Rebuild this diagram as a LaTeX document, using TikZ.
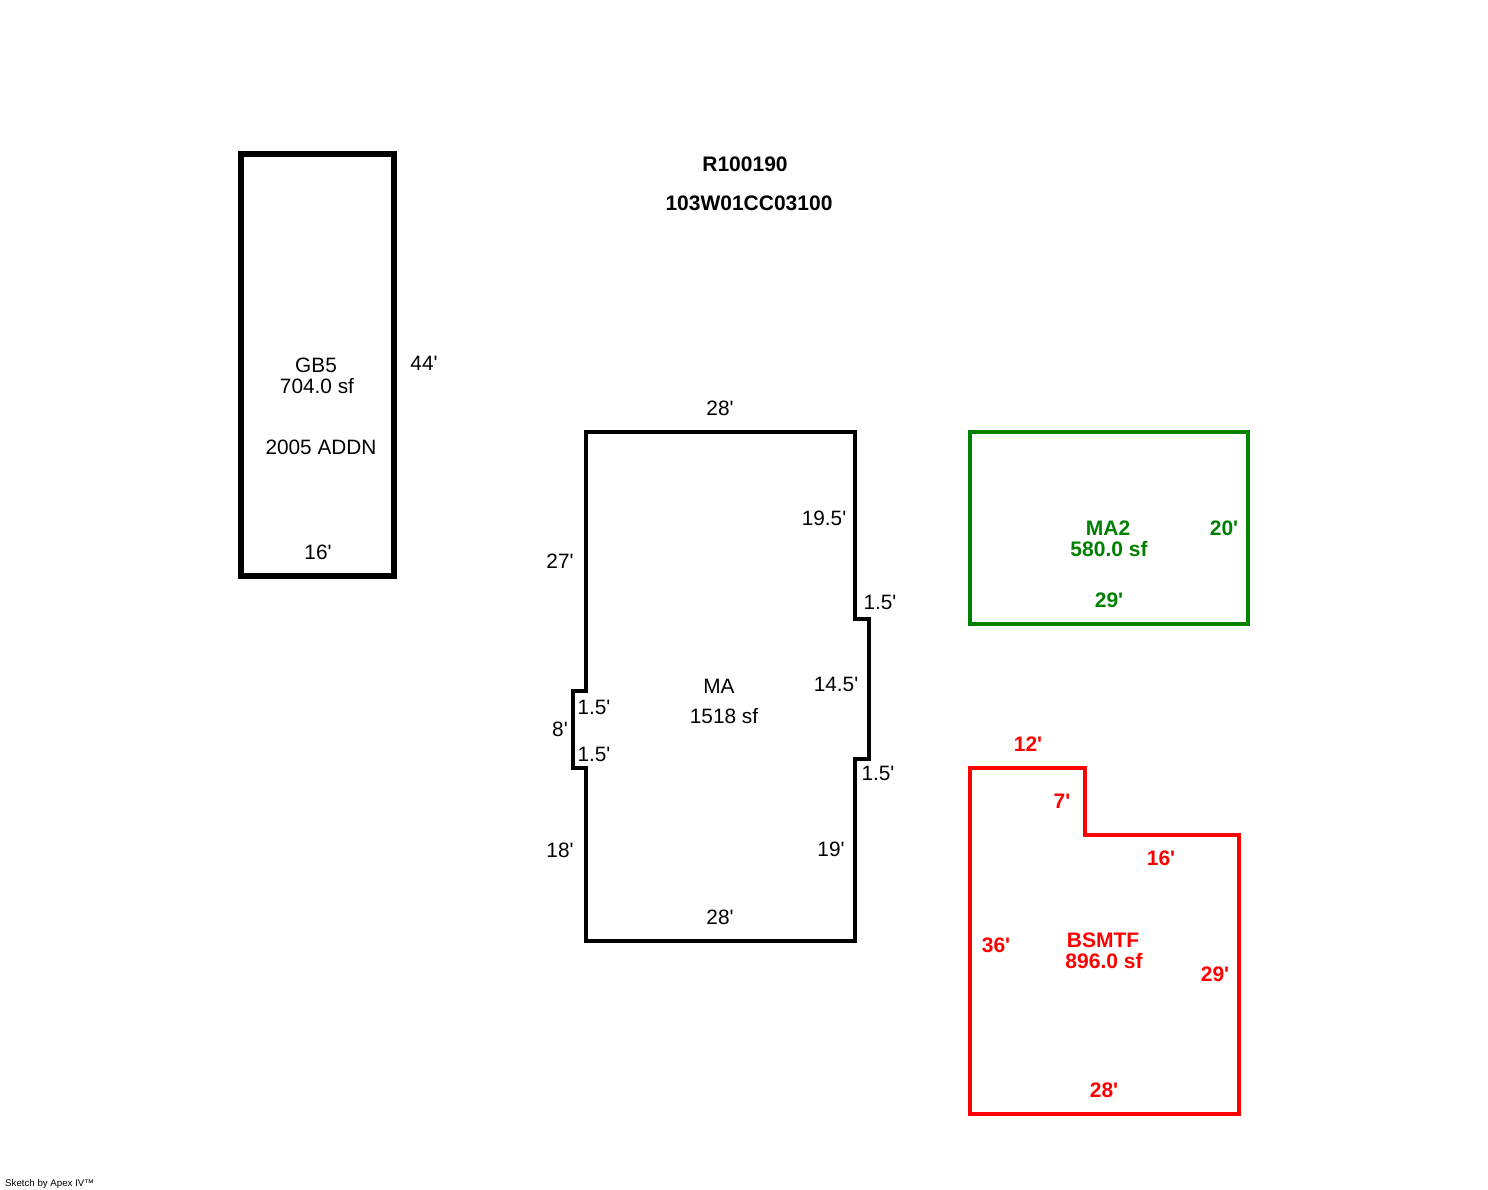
\documentclass[tikz,border=0pt]{standalone}
\usepackage{fontspec}
\setmainfont[Ligatures=TeXOff]{Liberation Sans}
\definecolor{dgreen}{RGB}{0,128,0}
\begin{document}
\begin{tikzpicture}[x=1pt,y=-1pt,
 lbl/.style={inner sep=0pt,font=\fontsize{20.8}{21}\selectfont},
 blbl/.style={inner sep=0pt,font=\fontsize{21}{21}\selectfont\bfseries},
 grn/.style={blbl,text=dgreen},
 rd/.style={blbl,text=red},
 wall/.style={line join=miter,line width=4pt}]
\useasboundingbox (0,0) rectangle (1488,1190);
\draw[wall,line width=6pt] (241,154) rectangle (394,576);
\draw[wall] (586,432) -- (855,432) -- (855,619) -- (869,619) -- (869,759) -- (855,759) -- (855,940.5) -- (586,940.5) -- (586,768) -- (572.5,768) -- (572.5,691) -- (586,691) -- cycle;
\draw[wall,dgreen] (970,432) rectangle (1248,624);
\draw[wall,red] (970,768) -- (1085,768) -- (1085,835) -- (1239,835) -- (1239,1114) -- (970,1114) -- cycle;
\node[blbl] (t1) at (745,164) {R100190};
\node[blbl] (t2) at (749,203) {103W01CC03100};
\node[lbl] (g1) at (316,365) {GB5};
\node[lbl] (g2) at (317,386) {704.0 sf};
\node[lbl] (g3) at (321,447) {2005 ADDN};
\node[lbl] (g4) at (424,363) {44'};
\node[lbl] (g5) at (318,552) {16'};
\node[lbl] (m1) at (719,686) {MA};
\node[lbl] (m2) at (724,716) {1518 sf};
\node[lbl] (m3) at (720,408) {28'};
\node[lbl] (m4) at (824,518) {19.5'};
\node[lbl] (m5) at (560,561) {27'};
\node[lbl] (m6) at (880,602) {1.5'};
\node[lbl] (m7) at (836,684) {14.5'};
\node[lbl] (m8) at (594,707) {1.5'};
\node[lbl] (m9) at (560,729) {8'};
\node[lbl] (m10) at (594,754) {1.5'};
\node[lbl] (m11) at (878,773) {1.5'};
\node[lbl] (m12) at (560,850) {18'};
\node[lbl] (m13) at (831,849) {19'};
\node[lbl] (m14) at (720,917) {28'};
\node[grn] (a1) at (1108,528) {MA2};
\node[grn] (a2) at (1109,549) {580.0 sf};
\node[grn] (a3) at (1224,528) {20'};
\node[grn] (a4) at (1109,600) {29'};
\node[rd] (b1) at (1028,744) {12'};
\node[rd] (b2) at (1062,801) {7'};
\node[rd] (b3) at (1161,858) {16'};
\node[rd] (b4) at (996,945) {36'};
\node[rd] (b5) at (1103,940) {BSMTF};
\node[rd] (b6) at (1104,961) {896.0 sf};
\node[rd] (b7) at (1215,974) {29'};
\node[rd] (b8) at (1104,1090) {28'};
\node[anchor=west,inner sep=0pt,font=\fontsize{9.7}{10}\selectfont] (s) at (5,1184) {Sketch by Apex IV™};
\end{tikzpicture}
\end{document}
